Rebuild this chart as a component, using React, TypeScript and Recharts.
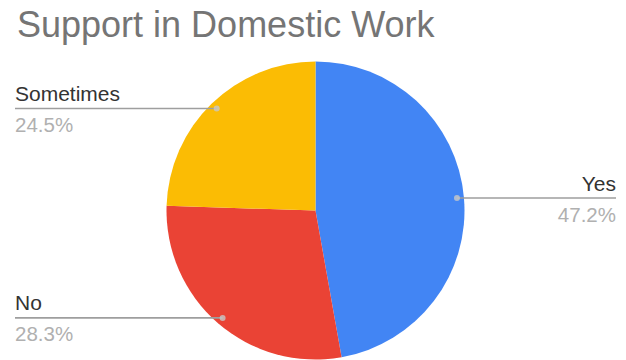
import React from 'react';
import { PieChart, Pie, Cell } from 'recharts';

const categories = ['Yes', 'No', 'Sometimes'];
const values = [47.2, 28.3, 24.5];
const colors = ['#4285F4', '#EA4335', '#FBBC04'];
const title = 'Support in Domestic Work';

const data = categories.map((name, i) => ({ name, value: values[i] }));

const RADIAN = Math.PI / 180;
const FONT = '"Liberation Sans", Arial, sans-serif';

const renderLabel = (props: any) => {
  const { cx, cy, midAngle, outerRadius, percent, index } = props;
  const r = outerRadius * 0.953;
  const x = cx + r * Math.cos(-midAngle * RADIAN);
  const y = cy + r * Math.sin(-midAngle * RADIAN);
  const right = Math.cos(-midAngle * RADIAN) > 0;
  const edge = right ? 616 : 15;
  const anchor = right ? 'end' : 'start';
  return (
    <g key={`lbl-${index}`}>
      <line x1={x} y1={y} x2={edge} y2={y} stroke="#9e9e9e" strokeWidth={1.6} />
      <circle cx={x} cy={y} r={3} fill="#c8c8c8" opacity={0.8} />
      <text x={edge} y={y - 7.5} textAnchor={anchor} fontFamily={FONT} fontSize={21} fill="#333333">
        {categories[index]}
      </text>
      <text x={edge} y={y + 23.5} textAnchor={anchor} fontFamily={FONT} fontSize={20.5} fill="#b0b0b0">
        {(percent * 100).toFixed(1)}%
      </text>
    </g>
  );
};

export default function App() {
  return (
    <div style={{ position: 'absolute', left: 0, top: 0, width: 626, height: 360, background: '#fff' }}>
      <PieChart width={626} height={360} margin={{ top: 0, right: 0, bottom: 0, left: 0 }}>
        <Pie
          data={data}
          dataKey="value"
          nameKey="name"
          cx={315.5}
          cy={210.5}
          outerRadius={149}
          startAngle={90}
          endAngle={-270}
          stroke="none"
          isAnimationActive={false}
          labelLine={false}
          label={renderLabel}
        >
          {data.map((d, i) => (
            <Cell key={d.name} fill={colors[i]} />
          ))}
        </Pie>
      </PieChart>
      <svg width={626} height={50} style={{ position: 'absolute', left: 0, top: 0 }}>
        <text x={17} y={37} fontFamily={FONT} fontSize={36} fill="#757575">
          {title}
        </text>
      </svg>
    </div>
  );
}
